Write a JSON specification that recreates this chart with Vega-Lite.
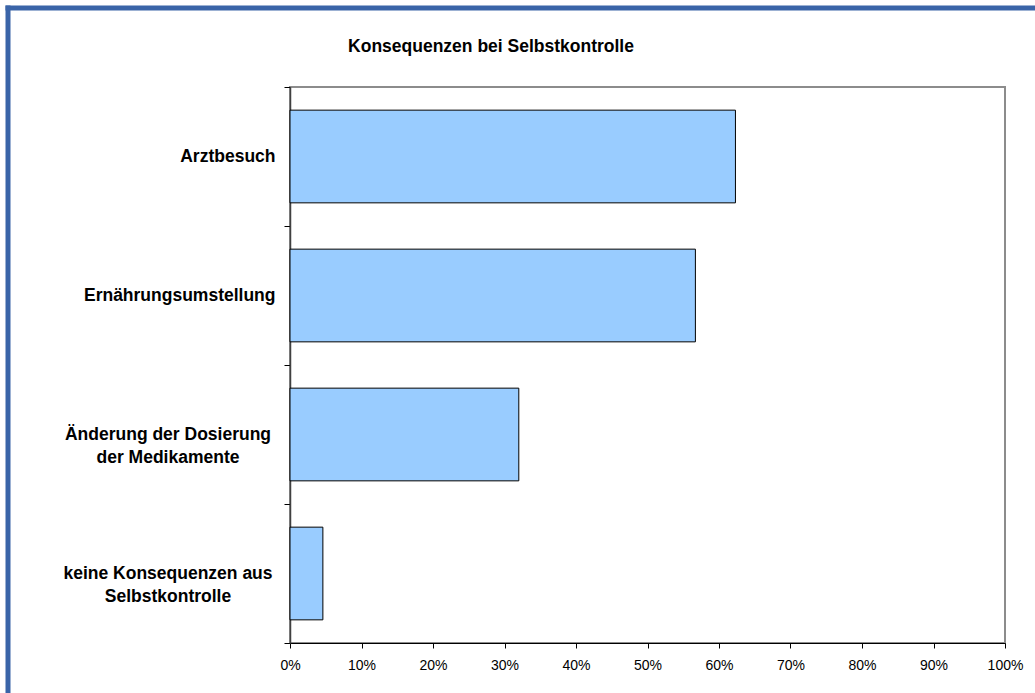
{
  "$schema": "https://vega.github.io/schema/vega-lite/v6.json",
  "width": 715,
  "height": 556,
  "autosize": {"type": "none"},
  "padding": {"left": 290, "top": 87, "right": 30, "bottom": 50},
  "background": "white",
  "config": {
    "view": {"stroke": "#8c8c8c", "strokeWidth": 2},
    "font": "Liberation Sans"
  },
  "layer": [
    {
      "data": {
        "values": [
          {"cat": "Arztbesuch", "pct": 62.3},
          {"cat": "Ernährungsumstellung", "pct": 56.7},
          {"cat": "Änderung der Dosierung der Medikamente", "pct": 32.0},
          {"cat": "keine Konsequenzen aus Selbstkontrolle", "pct": 4.6}
        ]
      },
      "mark": {"type": "bar", "fill": "#99ccff", "stroke": "#000000", "strokeWidth": 1, "height": {"band": 0.667}},
      "encoding": {
        "y": {
          "field": "cat",
          "type": "nominal",
          "sort": null,
          "scale": {"paddingInner": 0, "paddingOuter": 0},
          "axis": {
            "title": null,
            "tickBand": "extent",
            "tickSize": 6,
            "tickColor": "#000000",
            "domainColor": "#404040",
            "domainWidth": 1.5,
            "labelPadding": {"condition": {"test": "datum.value == 'Arztbesuch' || datum.value == 'Ernährungsumstellung'", "value": 9}, "value": 116.5},
            "labelAlign": {"condition": {"test": "datum.value == 'Arztbesuch' || datum.value == 'Ernährungsumstellung'", "value": "right"}, "value": "center"},
            "labelFont": "Liberation Sans",
            "labelFontSize": 17.5,
            "labelFontWeight": "bold",
            "labelColor": "#000000",
            "labelLineHeight": 22.7,
            "labelLimit": 0,
            "labelExpr": "datum.value == 'Änderung der Dosierung der Medikamente' ? ['Änderung der Dosierung', 'der Medikamente'] : datum.value == 'keine Konsequenzen aus Selbstkontrolle' ? ['keine Konsequenzen aus', 'Selbstkontrolle'] : datum.value"
          }
        },
        "x": {
          "field": "pct",
          "type": "quantitative",
          "scale": {"domain": [0, 100], "nice": false},
          "axis": {
            "title": null,
            "values": [0, 10, 20, 30, 40, 50, 60, 70, 80, 90, 100],
            "labelExpr": "datum.value + '%'",
            "grid": false,
            "tickSize": 5,
            "tickColor": "#000000",
            "domainColor": "#000000",
            "labelFont": "Liberation Sans",
            "labelFontSize": 14,
            "labelColor": "#000000",
            "labelPadding": 10,
            "labelFlush": false
          }
        }
      }
    },
    {
      "data": {"values": [{"b": 0}, {"b": 1}]},
      "mark": {"type": "point", "opacity": 0},
      "encoding": {
        "x": {
          "field": "b",
          "type": "quantitative",
          "scale": {"domain": [0, 1], "range": [-285, 760], "nice": false, "zero": false},
          "axis": {
            "orient": "top",
            "offset": 79.5,
            "domainColor": "#3a64a8",
            "domainWidth": 5,
            "ticks": false,
            "labels": false,
            "grid": false,
            "title": "Konsequenzen bei Selbstkontrolle",
            "titleX": 200.5,
            "titleY": 43.5,
            "titleAlign": "center",
            "titleAnchor": null,
            "titleBaseline": "alphabetic",
            "titleFont": "Liberation Sans",
            "titleFontSize": 17.5,
            "titleFontWeight": "bold",
            "titleColor": "#000000",
            "zindex": 1
          }
        },
        "y": {
          "field": "b",
          "type": "quantitative",
          "scale": {"domain": [0, 1], "range": [613, -82], "nice": false, "zero": false},
          "axis": {
            "orient": "left",
            "offset": 282.5,
            "domainColor": "#3a64a8",
            "domainWidth": 5,
            "ticks": false,
            "labels": false,
            "grid": false,
            "title": null,
            "zindex": 1
          }
        }
      }
    }
  ],
  "resolve": {
    "scale": {"x": "independent", "y": "independent"},
    "axis": {"x": "independent", "y": "independent"}
  }
}
